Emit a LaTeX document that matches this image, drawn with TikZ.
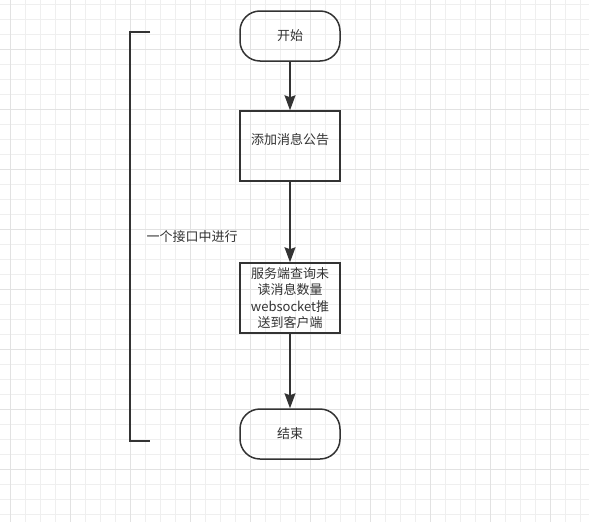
\documentclass[tikz,border=0pt]{standalone}
\usepackage{fontspec}
\setmainfont{Noto Sans CJK SC}
\usetikzlibrary{arrows.meta}
\definecolor{ink}{HTML}{333333}
\definecolor{gridminor}{HTML}{EFEFEF}
\definecolor{gridmajor}{HTML}{E2E2E2}
\tikzset{
  terminal/.style={draw=ink, line width=1.5pt, rounded corners=20pt, minimum width=100pt, minimum height=50pt, text=ink, font=\fontsize{13}{16.5}\selectfont},
  process/.style={draw=ink, line width=1.5pt, minimum width=100pt, minimum height=70pt, text=ink, align=center, font=\fontsize{13}{16.5}\selectfont},
  flow/.style={draw=ink, line width=1.5pt, -{Stealth[length=15pt,width=11pt,inset=2pt]}},
  bracket/.style={draw=ink, line width=1.5pt}
}
\begin{document}
\begin{tikzpicture}[x=1pt, y=-1pt]
\useasboundingbox[fill=white] (0,0) rectangle (589,522);
% Grid background
\foreach \gx in {10,25,...,589} \draw[gridminor, line width=0.8pt] (\gx,0) -- (\gx,522);
\foreach \gy in {4,19,...,522} \draw[gridminor, line width=0.8pt] (0,\gy) -- (589,\gy);
\foreach \gx in {10,70,...,589} \draw[gridmajor, line width=0.8pt] (\gx,0) -- (\gx,522);
\foreach \gy in {49,109,...,522} \draw[gridmajor, line width=0.8pt] (0,\gy) -- (589,\gy);

% Start
\node[terminal] (start) at (290,36) {开始};
% Add announcement
\node[process, text depth=14pt] (add) at (290,146) {添加消息公告};
% Query and push
\node[process] (push) at (290,298) {服务端查询未\\读消息数量\\websocket推\\送到客户端};
% End
\node[terminal] (stop) at (290,434) {结束};

% Connections
\draw[flow] (start) -- (add);
\draw[flow] (add) -- (push);
\draw[flow] (push) -- (stop);

% Bracket
\coordinate (brtop) at (150,32);
\coordinate (brbot) at (150,441);
\draw[bracket] (brtop) -- ++(-20,0) |- (brbot);
\node[text=ink, font=\fontsize{13}{16.5}\selectfont] (note) at (192,237) {一个接口中进行};
\end{tikzpicture}
\end{document}
